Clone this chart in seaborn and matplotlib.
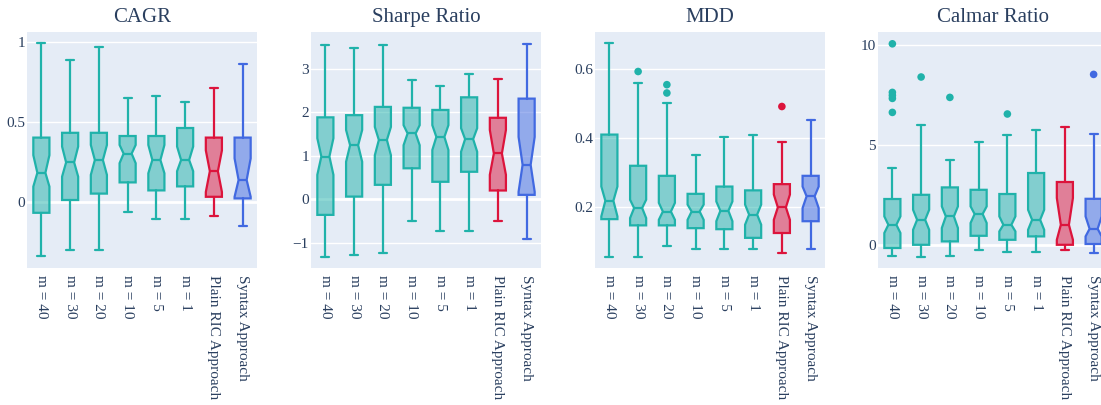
import matplotlib
matplotlib.use("Agg")
import matplotlib.pyplot as plt
import numpy as np
import pandas as pd
import seaborn as sns

sns.set_theme(style="darkgrid")
plt.rcParams["font.family"] = ["Liberation Serif", "DejaVu Serif"]

TEXT = "#2a3f5f"
BG = "#E5ECF6"

categories = ["m = 40", "m = 30", "m = 20", "m = 10", "m = 5", "m = 1",
              "Plain RIC Approach", "Syntax Approach"]
colors = ["#20B2AA"] * 6 + ["#DC143C", "#4169E1"]

# CAGR
cagr_lo = [-0.34, -0.30, -0.30, -0.065, -0.11, -0.11, -0.09, -0.15]
cagr_q1 = [-0.07, 0.01, 0.05, 0.12, 0.07, 0.095, 0.03, 0.02]
cagr_med = [0.18, 0.245, 0.26, 0.30, 0.26, 0.26, 0.19, 0.135]
cagr_q3 = [0.40, 0.43, 0.43, 0.41, 0.41, 0.46, 0.40, 0.40]
cagr_hi = [0.99, 0.885, 0.965, 0.645, 0.66, 0.62, 0.71, 0.86]
cagr_ci_lo = [0.094, 0.156, 0.167, 0.24, 0.177, 0.19, 0.06, 0.03]
cagr_ci_hi = [0.29, 0.344, 0.354, 0.354, 0.354, 0.344, 0.32, 0.27]
cagr_out = [[], [], [], [], [], [], [], []]

# Sharpe Ratio
sharpe_lo = [-1.32, -1.27, -1.24, -0.51, -0.72, -0.73, -0.49, -0.91]
sharpe_q1 = [-0.36, 0.06, 0.33, 0.71, 0.40, 0.63, 0.20, 0.10]
sharpe_med = [0.98, 1.24, 1.36, 1.51, 1.43, 1.38, 1.05, 0.79]
sharpe_q3 = [1.88, 1.93, 2.12, 2.10, 2.05, 2.34, 1.87, 2.31]
sharpe_hi = [3.53, 3.48, 3.55, 2.73, 2.60, 2.87, 2.76, 3.57]
sharpe_ci_lo = [0.56, 0.86, 1.01, 1.24, 1.13, 1.09, 0.56, 0.17]
sharpe_ci_hi = [1.40, 1.59, 1.66, 1.70, 1.70, 1.63, 1.59, 1.43]
sharpe_out = [[], [], [], [], [], [], [], []]

# MDD
mdd_lo = [0.058, 0.058, 0.088, 0.08, 0.08, 0.08, 0.068, 0.08]
mdd_q1 = [0.166, 0.148, 0.148, 0.14, 0.137, 0.112, 0.126, 0.16]
mdd_med = [0.219, 0.198, 0.188, 0.188, 0.19, 0.179, 0.20, 0.232]
mdd_q3 = [0.41, 0.32, 0.291, 0.239, 0.26, 0.249, 0.267, 0.291]
mdd_hi = [0.674, 0.559, 0.50, 0.35, 0.403, 0.41, 0.39, 0.451]
mdd_ci_lo = [0.174, 0.169, 0.164, 0.164, 0.16, 0.15, 0.164, 0.198]
mdd_ci_hi = [0.26, 0.222, 0.213, 0.208, 0.217, 0.208, 0.237, 0.26]
mdd_out = [[], [0.592], [0.554, 0.53], [], [], [], [0.491], []]

# Calmar Ratio
calmar_lo = [-0.55, -0.57, -0.53, -0.25, -0.32, -0.32, -0.22, -0.38]
calmar_q1 = [-0.13, 0.03, 0.2, 0.48, 0.28, 0.45, 0.03, 0.07]
calmar_med = [1.03, 1.28, 1.45, 1.57, 1.03, 1.28, 1.03, 0.83]
calmar_q3 = [2.32, 2.53, 2.9, 2.78, 2.57, 3.62, 3.17, 2.33]
calmar_hi = [3.87, 6.03, 4.28, 5.17, 5.53, 5.78, 5.92, 5.58]
calmar_ci_lo = [0.62, 0.78, 0.87, 1.12, 0.70, 0.78, 0.28, 0.45]
calmar_ci_hi = [1.45, 1.78, 1.95, 1.95, 1.45, 1.78, 2.37, 1.45]
calmar_out = [[10.08, 7.65, 7.5, 7.35, 6.65], [8.42], [7.4], [], [6.57], [], [], [8.55]]

panels = [
    ("CAGR", cagr_lo, cagr_q1, cagr_med, cagr_q3, cagr_hi, cagr_ci_lo, cagr_ci_hi, cagr_out,
     (-0.415, 1.06), [0, 0.5, 1], ["0", "0.5", "1"]),
    ("Sharpe Ratio", sharpe_lo, sharpe_q1, sharpe_med, sharpe_q3, sharpe_hi, sharpe_ci_lo,
     sharpe_ci_hi, sharpe_out, (-1.58, 3.84), [-1, 0, 1, 2, 3], ["\u22121", "0", "1", "2", "3"]),
    ("MDD", mdd_lo, mdd_q1, mdd_med, mdd_q3, mdd_hi, mdd_ci_lo, mdd_ci_hi, mdd_out,
     (0.025, 0.706), [0.2, 0.4, 0.6], ["0.2", "0.4", "0.6"]),
    ("Calmar Ratio", calmar_lo, calmar_q1, calmar_med, calmar_q3, calmar_hi, calmar_ci_lo,
     calmar_ci_hi, calmar_out, (-1.13, 10.67), [0, 5, 10], ["0", "5", "10"]),
]

fig = plt.figure(figsize=(11.01, 4.05), dpi=100)
lefts = [27, 311, 595, 878]

for left, (title, lo, q1, med, q3, hi, ci_lo, ci_hi, out, ylim, yt, ytl) in zip(lefts, panels):
    ax = fig.add_axes([left / 1101, 1 - 268 / 405, 230 / 1101, 236 / 405])
    ax.set_facecolor(BG)
    ax.set_axisbelow(True)
    ax.grid(axis="y", color="white", linewidth=1.0)
    ax.grid(axis="x", visible=False)
    if ylim[0] < 0 < ylim[1]:
        ax.axhline(0, color="white", linewidth=2.0, zorder=0.5)

    for i in range(len(categories)):
        c = colors[i]
        rgb = matplotlib.colors.to_rgb(c)
        stats = [dict(med=med[i], q1=q1[i], q3=q3[i], whislo=lo[i], whishi=hi[i],
                      cilo=ci_lo[i], cihi=ci_hi[i], fliers=[])]
        ax.bxp(stats, positions=[i], widths=0.56, capwidths=0.28, shownotches=True,
               patch_artist=True, manage_ticks=False, showfliers=False,
               boxprops=dict(facecolor=(*rgb, 0.5), edgecolor=c, linewidth=1.6),
               whiskerprops=dict(color=c, linewidth=1.6),
               capprops=dict(color=c, linewidth=1.6),
               medianprops=dict(color=c, linewidth=1.6))

    out_df = pd.DataFrame(
        [(i, v, categories[i]) for i in range(len(categories)) for v in out[i]],
        columns=["pos", "value", "group"],
    )
    if len(out_df):
        sns.scatterplot(data=out_df, x="pos", y="value", hue="group",
                        palette=dict(zip(categories, colors)), s=30, linewidth=0,
                        legend=False, ax=ax, zorder=3)

    ax.set_xlim(-0.5, len(categories) - 0.5)
    ax.set_ylim(*ylim)
    ax.set_xticks(range(len(categories)))
    ax.set_xticklabels(categories, rotation=270, va="top", ha="center")
    ax.set_yticks(yt)
    ax.set_yticklabels(ytl)
    ax.set_xlabel("")
    ax.set_ylabel("")
    ax.tick_params(axis="both", length=0, labelsize=11, colors=TEXT)
    ax.tick_params(axis="x", pad=5)
    ax.tick_params(axis="y", pad=1.5)
    for s in ax.spines.values():
        s.set_visible(False)
    ax.set_title(title, fontsize=15, color=TEXT, pad=7)

fig.savefig("out.png", dpi=100)
